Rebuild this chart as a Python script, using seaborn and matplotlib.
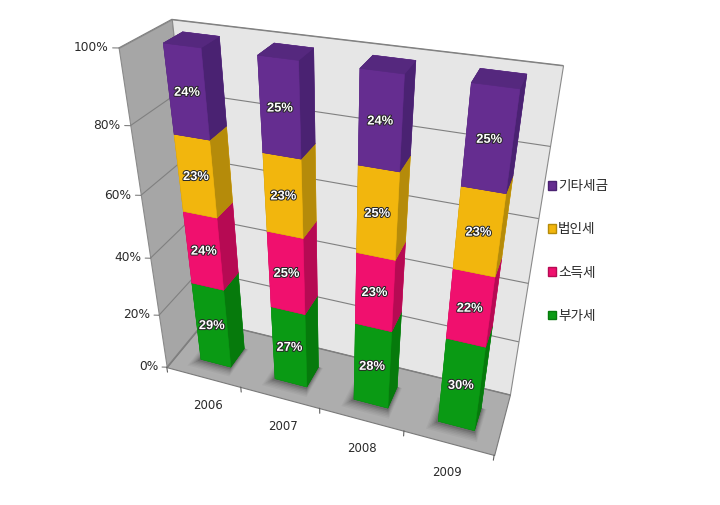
import numpy as np
import matplotlib
matplotlib.use("Agg")
import matplotlib.pyplot as plt
import matplotlib.patheffects as pe
from matplotlib.patches import Patch
from mpl_toolkits.mplot3d import proj3d
from mpl_toolkits.mplot3d.art3d import Poly3DCollection
import seaborn as sns

years = ["2006", "2007", "2008", "2009"]
series_names = ["부가세", "소득세", "법인세", "기타세금"]
vat = [29, 27, 28, 30]
income = [24, 25, 23, 22]
corporate = [23, 23, 25, 23]
other = [24, 25, 24, 25]
series_values = [vat, income, corporate, other]
front_colors = ["#0A9A14", "#F0106E", "#F2B60D", "#652D90"]
side_colors = ["#067A0C", "#B60A53", "#B58B0A", "#4A2272"]
top_colors = ["#18A824", "#F0307F", "#E8B020", "#55287E"]
z_ticks = [0, 20, 40, 60, 80, 100]

sns.set_theme(style="white")
plt.rcParams["font.family"] = ["DejaVu Sans", "Noto Sans CJK KR"]
TXT = "#2A2A2A"

W, H = 720, 505
fig = plt.figure(figsize=(W / 100, H / 100), dpi=100, facecolor="white")
scale, cx, cy = 2845.0, 327.5, 246.5
ax = fig.add_axes([0, 0, 1, 1], projection="3d", computed_zorder=False)
side = scale * ax.viewLim.width
ax.set_position([(cx - side / 2) / W, (H - cy - side / 2) / H, side / W, side / H])
ax.set_proj_type("persp", focal_length=0.2753)
ax.view_init(elev=32.24, azim=-69.57)
ax.set_box_aspect((1.0039, 0.2457, 1.0), zoom=1.0)
n = len(years)
ax.set_xlim(0, n); ax.set_ylim(0, 1); ax.set_zlim(0, 100)
ax.set_axis_off()
ax.patch.set_alpha(0)

def label3d(x, y, z, s, **kw):
    """Place a screen-aligned text at the projected position of a data point."""
    X, Y, _ = proj3d.proj_transform(x, y, z, ax.get_proj())
    return ax.text2D(X, Y, s, transform=ax.transData, clip_on=False, **kw)

def wall(verts, fc, ec, zo):
    ax.add_collection3d(Poly3DCollection([verts], facecolor=fc, edgecolor=ec, linewidth=0.8, zorder=zo))

wall([(0, 0, 0), (0, 1, 0), (0, 1, 100), (0, 0, 100)], "#A6A6A6", "#8A8A8A", 1)
wall([(0, 1, 0), (n, 1, 0), (n, 1, 100), (0, 1, 100)], "#E6E6E6", "#8A8A8A", 1)
wall([(0, 0, 0), (n, 0, 0), (n, 1, 0), (0, 1, 0)], "#ADADAD", "#7A7A7A", 2)

for z in z_ticks:
    ax.plot([0, 0, n], [0, 1, 1], [z, z, z], color="#808080", lw=0.8, zorder=3)
    ax.plot([0, -0.055], [0, -0.018], [z, z], color="#808080", lw=0.8, zorder=3)
    label3d(-0.095, -0.03, z, f"{z}%", fontsize=8.8, color=TXT, ha="right", va="center", zorder=3)

for k in range(n + 1):
    ax.plot([k, k], [0, 0], [0, -2], color="#606060", lw=0.8, zorder=3)
for i, yr in enumerate(years):
    label3d(i + 0.52, 0, -11.5, yr, fontsize=8.5, color=TXT, ha="center", va="center", zorder=3)

w, d = 0.41, 0.38
x_off, y0 = 0.32, 0.28
zo = 5
for i in range(n):
    x0 = i + x_off
    for grow, alpha in [(0.10, 0.035), (0.085, 0.045), (0.07, 0.055), (0.055, 0.07), (0.04, 0.09), (0.025, 0.12)]:
        gy = grow * 1.6
        sq = [[(x0 - grow, y0 - gy, 0), (x0 + w + grow * 0.6, y0 - gy, 0),
               (x0 + w + grow * 0.6, y0 + d, 0), (x0 - grow, y0 + d, 0)]]
        ax.add_collection3d(Poly3DCollection(sq, facecolor=(0, 0, 0, alpha), edgecolor="none", zorder=zo))
        zo += 1
    bottom = 0
    for s, vals in enumerate(series_values):
        v = vals[i]
        cols = [side_colors[s], top_colors[s], front_colors[s], front_colors[s], side_colors[s], side_colors[s]]
        ax.bar3d(x0, y0, bottom, w, d, v, color=cols, edgecolor=list(cols), linewidth=0.4, shade=False, zorder=zo)
        zo += 1
        label3d(x0 + w / 2, y0, bottom + v / 2, f"{v}%", color="white", fontsize=9.3, fontweight="bold",
                family="Liberation Sans", ha="center", va="center", zorder=1000,
                path_effects=[pe.withStroke(linewidth=1.4, foreground="#262626")])
        bottom += v

handles = [Patch(facecolor=front_colors[s], edgecolor=side_colors[s], label=series_names[s]) for s in range(4)][::-1]
fig.legend(handles=handles, loc="center left", bbox_to_anchor=(0.744, 0.503), frameon=False,
           fontsize=9.8, labelcolor=TXT, handlelength=0.6, handleheight=0.6, handletextpad=0.15, labelspacing=2.15)

fig.savefig("out.png", dpi=100)
